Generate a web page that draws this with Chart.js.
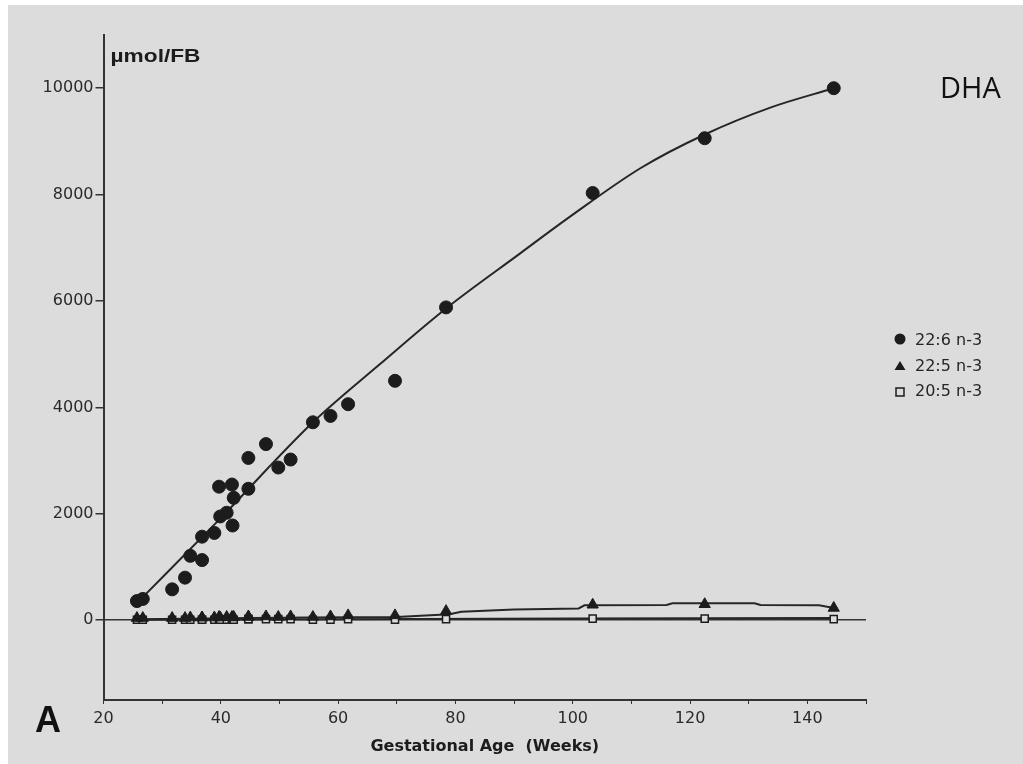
<!DOCTYPE html>
<html>
<head>
<meta charset="utf-8">
<script src="https://cdn.jsdelivr.net/npm/chart.js@4.4.1/dist/chart.umd.min.js"></script>
<style>
html, body { margin: 0; padding: 0; background: #fff; }
#wrap { position: absolute; left: 8px; top: 5px; width: 1015px; height: 759px; background: #dcdcdc; }
canvas { display: block; }
</style>
</head>
<body>
<div id="wrap"><canvas id="chartDHA" width="1015" height="759"></canvas></div>
<script>
// Semanas de gestación de cada muestra
const weeks = [25.7, 26.7, 31.7, 33.9, 34.8, 36.8, 36.8, 38.9, 39.7, 39.9, 41.0, 41.9, 42.0, 42.2, 44.7, 44.7, 47.7, 49.8, 51.9, 55.7, 58.7, 61.7, 69.7, 78.4, 103.4, 122.5, 144.5];
// µmol/FB por ácido graso
const dha226 = [360, 400, 580, 800, 1210, 1130, 1570, 1640, 2510, 1950, 2020, 2550, 1780, 2300, 2470, 3050, 3310, 2870, 3020, 3720, 3840, 4060, 4500, 5880, 8030, 9060, 10000];
const dpa225 = [40, 40, 40, 40, 50, 50, 50, 50, 60, 50, 60, 60, 50, 60, 60, 70, 70, 60, 70, 60, 70, 90, 90, 170, 290, 300, 230];
const epa205 = [10, 10, 10, 10, 10, 10, 10, 10, 20, 10, 10, 20, 10, 10, 20, 20, 20, 20, 20, 10, 10, 20, 10, 20, 30, 30, 20];

// Curvas ajustadas
const fit226Weeks = [26.2, 39.9, 55.7, 67.2, 78.4, 91.1, 99.6, 111.6, 122.5, 133.8, 144.5];
const fit226 = [378, 1909, 3720, 4820, 5860, 6900, 7590, 8500, 9130, 9640, 10000];
const fit225Weeks = [26, 45, 55, 70, 79, 81, 90, 101, 102, 116, 117, 131, 132, 142, 145];
const fit225 = [20, 40, 50, 60, 110, 160, 200, 220, 280, 285, 320, 320, 285, 280, 220];
const fit205Weeks = [26, 60, 100, 145];
const fit205 = [10, 20, 30, 40];

const seriesLabels = ['22:6 n-3', '22:5 n-3', '20:5 n-3'];
const yTicks = [0, 2000, 4000, 6000, 8000, 10000];

const toXY = (xs, ys) => xs.map((x, i) => ({ x: x, y: ys[i] }));
const INK = '#1c1c1c';
const BG = '#dcdcdc';

// Textos sueltos y leyenda
const extras = {
    id: 'extras',
    afterDraw(chart) {
        const ctx = chart.ctx;
        const area = chart.chartArea;
        ctx.save();
        ctx.fillStyle = INK;
        ctx.textBaseline = 'middle';
        ctx.textAlign = 'left';

        // unidad del eje y
        ctx.font = 'bold 18px "Liberation Sans", Arial, sans-serif';
        const w = ctx.measureText('µmol/FB').width;
        ctx.save();
        ctx.translate(area.left + 7, 52);
        ctx.scale(90 / w, 1);
        ctx.fillText('µmol/FB', 0, 0);
        ctx.restore();

        // leyenda
        const rows = [336, 362, 387];
        const mx = 892, tx = 907;
        ctx.font = '16px "DejaVu Sans", sans-serif';
        seriesLabels.forEach((lab, i) => {
            const y = rows[i];
            ctx.fillStyle = INK;
            ctx.strokeStyle = INK;
            ctx.lineWidth = 1.5;
            if (i === 0) {
                ctx.beginPath(); ctx.arc(mx, y - 2, 5.5, 0, Math.PI * 2); ctx.fill();
            } else if (i === 1) {
                ctx.beginPath(); ctx.moveTo(mx, y - 6); ctx.lineTo(mx + 5.5, y + 3); ctx.lineTo(mx - 5.5, y + 3); ctx.closePath(); ctx.fill();
            } else {
                ctx.fillStyle = BG;
                ctx.fillRect(mx - 4, y - 4, 8, 8);
                ctx.strokeRect(mx - 4, y - 4, 8, 8);
            }
            ctx.fillStyle = '#262626';
            ctx.fillText(lab, tx, y);
        });

        ctx.fillStyle = '#111';
        ctx.font = '29px "Open Sans", sans-serif';
        ctx.fillText('DHA', 932, 85);

        ctx.font = 'bold 36px "Liberation Sans", Arial, sans-serif';
        ctx.fillText('A', 27, 717);
        ctx.restore();
    }
};

const ctxDHA = document.getElementById('chartDHA').getContext('2d');
new Chart(ctxDHA, {
    type: 'scatter',
    data: {
        datasets: [{
            label: seriesLabels[0],
            data: toXY(weeks, dha226),
            pointStyle: 'circle',
            pointRadius: 6.5,
            backgroundColor: INK,
            borderColor: INK
        }, {
            label: seriesLabels[1],
            data: toXY(weeks, dpa225),
            pointStyle: 'triangle',
            pointRadius: 6.5,
            backgroundColor: INK,
            borderColor: INK
        }, {
            label: seriesLabels[2],
            data: toXY(weeks, epa205),
            pointStyle: 'rect',
            pointRadius: 5,
            borderWidth: 1.5,
            backgroundColor: BG,
            borderColor: INK
        }, {
            label: 'ajuste 22:6',
            data: toXY(fit226Weeks, fit226),
            showLine: true,
            pointRadius: 0,
            borderColor: '#262626',
            borderWidth: 2,
            cubicInterpolationMode: 'monotone'
        }, {
            label: 'ajuste 22:5',
            data: toXY(fit225Weeks, fit225),
            showLine: true,
            pointRadius: 0,
            borderColor: '#262626',
            borderWidth: 2
        }, {
            label: 'ajuste 20:5',
            data: toXY(fit205Weeks, fit205),
            showLine: true,
            pointRadius: 0,
            borderColor: '#262626',
            borderWidth: 2
        }]
    },
    options: {
        responsive: false,
        animation: false,
        layout: { padding: { left: 0, top: 30, right: 157, bottom: 0 } },
        plugins: {
            legend: { display: false },
            tooltip: { enabled: false }
        },
        scales: {
            x: {
                type: 'linear',
                min: 20,
                max: 150,
                afterFit: (s) => { s.height = 64; },
                grid: { drawOnChartArea: false, tickLength: 4, color: '#333', tickColor: '#333' },
                border: { color: '#333', width: 2 },
                ticks: {
                    stepSize: 10,
                    autoSkip: false,
                    maxRotation: 0,
                    padding: 5,
                    color: '#2a2a2a',
                    font: { family: '"DejaVu Sans", sans-serif', size: 16 },
                    callback: (v) => (v % 20 === 0 ? String(v) : '')
                },
                title: {
                    display: true,
                    text: 'Gestational Age  (Weeks)',
                    color: '#1c1c1c',
                    padding: { top: 4, bottom: 8 },
                    font: { family: '"DejaVu Sans", sans-serif', size: 16, weight: 'bold' }
                }
            },
            y: {
                min: -1500,
                max: 11000,
                afterFit: (s) => { s.width = 95.5; },
                afterBuildTicks: (axis) => { axis.ticks = yTicks.map((v) => ({ value: v })); },
                grid: {
                    tickLength: 8,
                    lineWidth: 1.5,
                    tickColor: '#333',
                    color: (c) => (c.tick && c.tick.value === 0 ? '#333' : 'rgba(0,0,0,0)')
                },
                border: { color: '#333', width: 2 },
                ticks: {
                    padding: 2,
                    color: '#2a2a2a',
                    font: { family: '"DejaVu Sans", sans-serif', size: 16 },
                    callback: (v) => String(v)
                }
            }
        }
    },
    plugins: [extras]
});
</script>
</body>
</html>
